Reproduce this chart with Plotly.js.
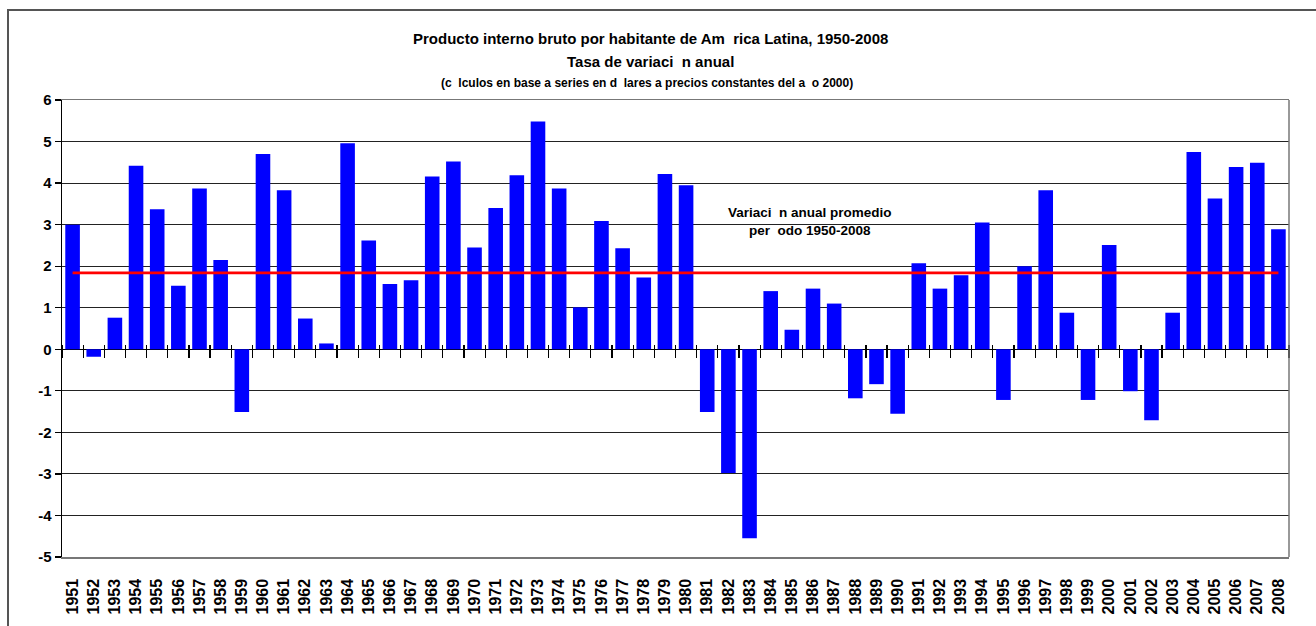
<!DOCTYPE html>
<html>
<head>
<meta charset="utf-8">
<script src="https://cdn.plot.ly/plotly-3.0.1.min.js"></script>
<style>html,body{margin:0;padding:0;background:#fff;}#chart{width:1316px;height:626px;}</style>
</head>
<body>
<div id="chart"></div>
<script>
const years = ["1951","1952","1953","1954","1955","1956","1957","1958","1959","1960",
"1961","1962","1963","1964","1965","1966","1967","1968","1969","1970",
"1971","1972","1973","1974","1975","1976","1977","1978","1979","1980",
"1981","1982","1983","1984","1985","1986","1987","1988","1989","1990",
"1991","1992","1993","1994","1995","1996","1997","1998","1999","2000",
"2001","2002","2003","2004","2005","2006","2007","2008"];
const growth = [3.0,-0.18,0.76,4.42,3.37,1.53,3.87,2.15,-1.51,4.70,
3.83,0.74,0.14,4.96,2.62,1.57,1.66,4.16,4.52,2.45,
3.40,4.19,5.48,3.87,1.01,3.09,2.43,1.73,4.22,3.95,
-1.51,-2.98,-4.55,1.40,0.47,1.46,1.10,-1.18,-0.84,-1.55,
2.07,1.46,1.78,3.05,-1.22,2.00,3.83,0.88,-1.22,2.51,
-1.01,-1.71,0.88,4.75,3.63,4.39,4.49,2.89];
const averageGrowth = 1.84;
const yTicks = [-5,-4,-3,-2,-1,0,1,2,3,4,5,6];
const titleLines = [
  "Producto interno bruto por habitante de Am\u00a0\u00a0rica Latina, 1950-2008",
  "Tasa de variaci\u00a0\u00a0n anual",
  "(c\u00a0\u00a0lculos en base a series en d\u00a0\u00a0lares a precios constantes del a\u00a0\u00a0o 2000)"
];
const avgLabel = "Variaci\u00a0\u00a0n anual promedio<br>per\u00a0\u00a0odo 1950-2008";

const FONT = "Liberation Sans, Arial, sans-serif";

const traces = [
  {type:"bar", x:years, y:growth, marker:{color:"#0000FF", line:{width:0}},
   xaxis:"x", yaxis:"y", hoverinfo:"x+y"},
  {type:"scatter", mode:"lines", x:years, y:years.map(()=>averageGrowth),
   line:{color:"#FF0000", width:2.7}, xaxis:"x2", yaxis:"y", hoverinfo:"skip"}
];

const L=62, R=1289, T=100, B=557;
const W=R-L, H=B-T;
const px = x => (x-L)/W;
const py = y => (B-y)/H;

const layout = {
  width:1316, height:626,
  margin:{l:L, r:1316-R, t:T, b:626-B, pad:0},
  paper_bgcolor:"#fff", plot_bgcolor:"#fff",
  showlegend:false,
  bargap:0.31,
  font:{family:FONT, color:"#000"},
  xaxis:{
    type:"category", range:[-0.5,57.5], autorange:false, fixedrange:true,
    tickmode:"linear", dtick:1, tickangle:-90,
    ticks:"outside", ticklen:14, tickcolor:"rgba(0,0,0,0)",
    tickfont:{family:FONT, size:16, color:"#000", weight:"bold"},
    showgrid:false, zeroline:false,
    showline:true, linecolor:"#777", linewidth:1.5, mirror:true,
    automargin:false
  },
  xaxis2:{
    type:"category", overlaying:"x", anchor:"free", position:py(344),
    range:[-0.5,57.5], autorange:false, fixedrange:true,
    tickmode:"linear", dtick:1, tickson:"boundaries",
    ticks:"outside", ticklen:13, tickcolor:"#000", tickwidth:1.2,
    showticklabels:false, showgrid:false, zeroline:false, showline:false,
    automargin:false
  },
  yaxis:{
    range:[-5,6], autorange:false, fixedrange:true,
    tickmode:"array", tickvals:yTicks, ticktext:yTicks.map(String),
    ticks:"outside", ticklen:6, tickcolor:"#000", tickwidth:1.2,
    tickfont:{family:FONT, size:15, color:"#000", weight:"bold"},
    showgrid:true, gridcolor:"#222", gridwidth:1,
    zeroline:true, zerolinecolor:"#000", zerolinewidth:1.3,
    showline:true, linecolor:"#000", linewidth:1.5,
    automargin:false
  },
  shapes:[
    {type:"line", xref:"paper", yref:"paper", x0:1, x1:1, y0:0, y1:1,
     line:{color:"#777", width:1.5}},
    {type:"rect", xref:"paper", yref:"paper", x0:px(8), x1:px(1330), y0:py(640), y1:py(10),
     line:{color:"#555", width:2}, fillcolor:"rgba(0,0,0,0)"}
  ],
  annotations:[
    {xref:"paper", yref:"paper", x:px(650), y:py(38), xanchor:"center", yanchor:"middle",
     text:titleLines[0], showarrow:false, font:{family:FONT, size:15, color:"#000", weight:"bold"}},
    {xref:"paper", yref:"paper", x:px(650), y:py(62), xanchor:"center", yanchor:"middle",
     text:titleLines[1], showarrow:false, font:{family:FONT, size:15, color:"#000", weight:"bold"}},
    {xref:"paper", yref:"paper", x:px(647), y:py(83), xanchor:"center", yanchor:"middle",
     text:titleLines[2], showarrow:false, font:{family:FONT, size:12, color:"#000", weight:"bold"}},
    {xref:"paper", yref:"paper", x:px(810), y:py(221), xanchor:"center", yanchor:"middle",
     text:avgLabel, showarrow:false, align:"center",
     font:{family:FONT, size:13.5, color:"#000", weight:"bold"}}
  ]
};

Plotly.newPlot("chart", traces, layout, {staticPlot:true, displayModeBar:false});
</script>
</body>
</html>
